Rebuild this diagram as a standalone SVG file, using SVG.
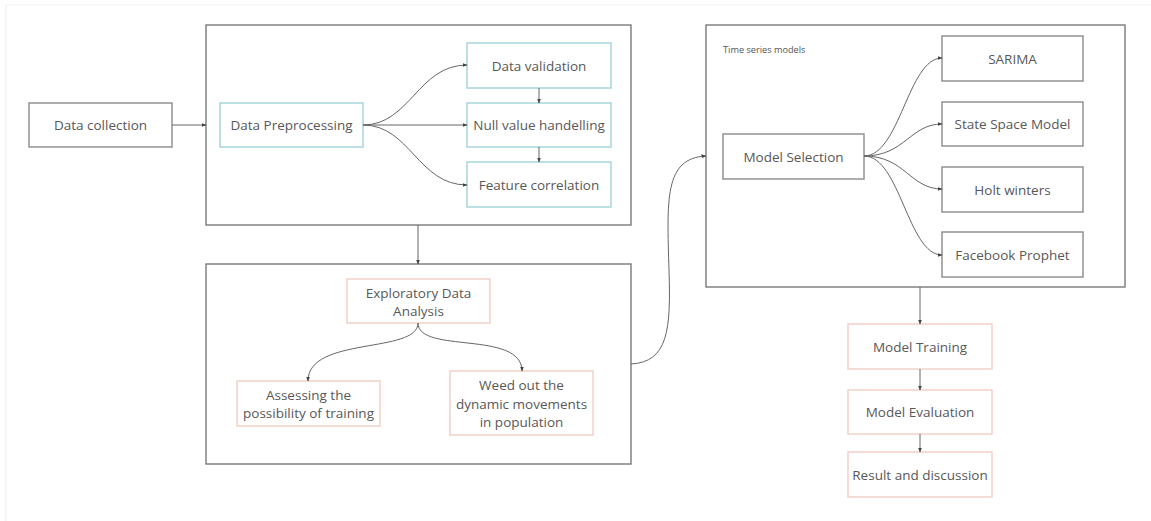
<svg xmlns="http://www.w3.org/2000/svg" width="1151" height="521" viewBox="0 0 1151 521">
<defs>
<marker id="ah" viewBox="0 0 10 10" refX="9" refY="5" markerWidth="5" markerHeight="5" orient="auto">
<path d="M0,1 L10,5 L0,9 z" fill="#444"/>
</marker>
<style>
.frame{fill:#fff;stroke:#7a7a7a;stroke-width:1.4}
.gray{fill:#fff;stroke:#8a8a8a;stroke-width:1.4}
.cyan{fill:#fff;stroke:#9fd2d8;stroke-width:1.4}
.pink{fill:#fff;stroke:#f0cdc6;stroke-width:1.4}
text{font-family:"Open Sans","Noto Sans","Liberation Sans",sans-serif;font-size:13.5px;fill:#585858;text-anchor:middle;dominant-baseline:central}
.small{font-size:9.2px;text-anchor:start;fill:#555}
.conn path,.conn line{fill:none;stroke:#666;stroke-width:1;marker-end:url(#ah)}
</style>
</defs>
<rect width="1151" height="521" fill="#fff"/>
<rect x="6" y="5" width="1200" height="600" fill="none" stroke="#f0f0f0" stroke-width="1"/>

<g id="prep-frame"><rect class="frame" x="206" y="25" width="425" height="200"/></g>
<g id="eda-frame"><rect class="frame" x="206" y="264" width="425" height="200"/></g>
<g id="ts-frame"><rect class="frame" x="706" y="25" width="419" height="262"/><text class="small" x="723" y="49">Time series models</text></g>

<g id="data-collection"><rect class="gray" x="29" y="103" width="143" height="44"/><text x="100.5" y="125">Data collection</text></g>
<g id="data-preprocessing"><rect class="cyan" x="220" y="103" width="143" height="44"/><text x="291.5" y="125">Data Preprocessing</text></g>
<g id="data-validation"><rect class="cyan" x="467" y="43" width="144" height="45"/><text x="539" y="65.5">Data validation</text></g>
<g id="null-value"><rect class="cyan" x="467" y="103" width="144" height="44"/><text x="539" y="125">Null value handelling</text></g>
<g id="feature-correlation"><rect class="cyan" x="467" y="162" width="144" height="45"/><text x="539" y="184.5">Feature correlation</text></g>

<g id="eda"><rect class="pink" x="347" y="279" width="143" height="44"/><text x="418.5" y="292.5">Exploratory Data</text><text x="418.5" y="311">Analysis</text></g>
<g id="assessing"><rect class="pink" x="237" y="381" width="143" height="45"/><text x="308.5" y="394.5">Assessing the</text><text x="308.5" y="413">possibility of training</text></g>
<g id="weed"><rect class="pink" x="450" y="371" width="143" height="64"/><text x="521.5" y="385">Weed out the</text><text x="521.5" y="403.5">dynamic movements</text><text x="521.5" y="422">in population</text></g>

<g id="model-selection"><rect class="gray" x="723" y="134" width="141" height="45"/><text x="793.5" y="156.5">Model Selection</text></g>
<g id="sarima"><rect class="gray" x="942" y="36" width="141" height="45"/><text x="1012.5" y="58.5">SARIMA</text></g>
<g id="state-space"><rect class="gray" x="942" y="102" width="141" height="44"/><text x="1012.5" y="124">State Space Model</text></g>
<g id="holt-winters"><rect class="gray" x="942" y="167" width="141" height="45"/><text x="1012.5" y="189.5">Holt winters</text></g>
<g id="facebook-prophet"><rect class="gray" x="942" y="232" width="141" height="45"/><text x="1012.5" y="254.5">Facebook Prophet</text></g>

<g id="model-training"><rect class="pink" x="848" y="324" width="144" height="45"/><text x="920" y="346.5">Model Training</text></g>
<g id="model-evaluation"><rect class="pink" x="848" y="390" width="144" height="44"/><text x="920" y="412">Model Evaluation</text></g>
<g id="result"><rect class="pink" x="848" y="452" width="144" height="45"/><text x="920" y="474.5">Result and discussion</text></g>

<g class="conn" id="connectors">
<line x1="172" y1="125" x2="206" y2="125"/>
<path d="M363,125 C410,125 418,65 467,65"/>
<line x1="363" y1="125" x2="467" y2="125"/>
<path d="M363,125 C410,125 418,185 467,185"/>
<line x1="539" y1="88" x2="539" y2="103"/>
<line x1="539" y1="147" x2="539" y2="162"/>
<line x1="418" y1="225" x2="418" y2="264"/>
<path d="M418,323 C418,354 308,336 308,381"/>
<path d="M418,323 C418,354 522,330 522,371"/>
<path d="M631,364 C668,362 671,330 669,270 C667,200 664,158 706,156"/>
<path d="M864,156 C900,156 908,58 942,58"/>
<path d="M864,156 C905,156 910,124 942,124"/>
<path d="M864,156 C905,156 910,189 942,189"/>
<path d="M864,156 C900,156 908,255 942,255"/>
<line x1="920" y1="287" x2="920" y2="324"/>
<line x1="920" y1="369" x2="920" y2="390"/>
<line x1="920" y1="434" x2="920" y2="452"/>
</g>
</svg>
